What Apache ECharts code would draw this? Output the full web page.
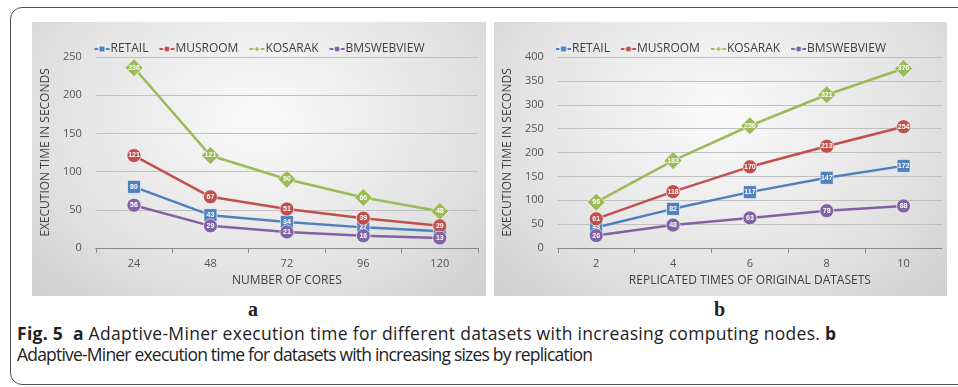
<!DOCTYPE html>
<html>
<head>
<meta charset="utf-8">
<script src="https://cdn.jsdelivr.net/npm/echarts@6/dist/echarts.min.js"></script>
<style>
  html, body { margin: 0; padding: 0; background: #fff; }
  body { width: 958px; height: 387px; position: relative; overflow: hidden; font-family: "Open Sans", sans-serif; }
  .frame { position: absolute; left: 10px; top: 7px; width: 990px; height: 376px; border: 1.5px solid #555; border-radius: 12px; }
  .panel { position: absolute; top: 22px; height: 274px; background: radial-gradient(ellipse at 50% 35%, #fafafa 0%, #e4e4e4 60%, #cfcfcf 100%); }
  #chartA { left: 32px; width: 454px; }
  #chartB { left: 494px; width: 453px; }
  .tag { position: absolute; top: 298px; font-family: "Liberation Serif", "DejaVu Serif", serif; font-weight: bold; font-size: 20px; color: #222; }
  .caption { position: absolute; left: 17px; top: 323px; font-size: 17.5px; line-height: 21px; color: #222; white-space: nowrap; }
  .caption .l1 { letter-spacing: 0.3px; }
  .caption .l2 { letter-spacing: -0.8px; }
</style>
</head>
<body>
<div class="frame"></div>
<div id="chartA" class="panel"></div>
<div id="chartB" class="panel"></div>
<div class="tag" style="left:248px">a</div>
<div class="tag" style="left:714px">b</div>
<div class="caption">
  <span class="l1"><b>Fig. 5</b>&nbsp; <b>a</b> Adaptive-Miner execution time for different datasets with increasing computing nodes. <b>b</b></span><br>
  <span class="l2">Adaptive-Miner execution time for datasets with increasing sizes by replication</span>
</div>
<script>
const seriesNames = ['RETAIL', 'MUSROOM', 'KOSARAK', 'BMSWEBVIEW'];
const seriesColors = ['#4f81bd', '#c0504d', '#9bbb59', '#8064a2'];
const seriesSymbols = ['rect', 'circle', 'diamond', 'circle'];
const seriesSymbolSizes = [13, 14, 18, 14];

// panel a
const coresCategories = ['24', '48', '72', '96', '120'];
const coresRetail = [80, 43, 34, 27, 22];
const coresMusroom = [121, 67, 51, 39, 29];
const coresKosarak = [236, 121, 90, 66, 48];
const coresBms = [56, 29, 21, 16, 13];

// panel b
const replCategories = ['2', '4', '6', '8', '10'];
const replRetail = [43, 82, 117, 147, 172];
const replMusroom = [61, 118, 170, 213, 254];
const replKosarak = [96, 183, 256, 321, 376];
const replBms = [26, 48, 63, 78, 88];

const textColor = '#404040';

function buildOption(categories, dataSets, yMax, yInterval, xName, gridLeft, gridRight) {
  return {
    animation: false,
    legend: {
      top: 16,
      left: 'center',
      itemWidth: 15,
      itemHeight: 8,
      itemGap: 10,
      textStyle: { color: textColor, fontSize: 12, fontFamily: 'Open Sans', padding: [0, 0, 0, -4] },
      data: seriesNames
    },
    grid: { left: gridLeft, right: gridRight, top: 35, bottom: 48 },
    xAxis: {
      type: 'category',
      data: categories,
      boundaryGap: true,
      name: xName,
      nameLocation: 'middle',
      nameGap: 27,
      nameTextStyle: { color: textColor, fontSize: 12, fontFamily: 'Open Sans' },
      axisLine: { lineStyle: { color: '#8a8a8a', width: 1 } },
      axisTick: { show: true, inside: false, length: 5, lineStyle: { color: '#8a8a8a' } },
      axisLabel: { color: '#555', fontSize: 11, margin: 10, fontFamily: 'Open Sans' }
    },
    yAxis: {
      type: 'value',
      min: 0,
      max: yMax,
      interval: yInterval,
      name: 'EXECUTION TIME IN SECONDS',
      nameLocation: 'middle',
      nameGap: 26,
      nameTextStyle: { color: textColor, fontSize: 12, fontFamily: 'Open Sans' },
      axisLine: { show: false },
      axisTick: { show: false },
      axisLabel: { color: '#555', fontSize: 11, margin: 14, fontFamily: 'Open Sans' },
      splitLine: { lineStyle: { color: '#c0c0c0', width: 1 } }
    },
    series: dataSets.map((d, i) => ({
      name: seriesNames[i],
      type: 'line',
      data: d,
      symbol: seriesSymbols[i],
      symbolSize: seriesSymbolSizes[i],
      z: 2 + (i === 2 ? 0 : i),
      lineStyle: { color: seriesColors[i], width: 2.5 },
      itemStyle: { color: seriesColors[i], borderColor: 'rgba(255,255,255,0.6)', borderWidth: 1 },
      label: {
        show: true,
        position: 'inside',
        color: '#fff',
        fontSize: 7,
        fontWeight: 'bold',
        fontFamily: 'Liberation Sans'
      }
    }))
  };
}

const chartA = echarts.init(document.getElementById('chartA'));
chartA.setOption(buildOption(coresCategories, [coresRetail, coresMusroom, coresKosarak, coresBms], 250, 50, 'NUMBER OF CORES', 55, 8));

const chartB = echarts.init(document.getElementById('chartB'));
chartB.setOption(buildOption(replCategories, [replRetail, replMusroom, replKosarak, replBms], 400, 50, 'REPLICATED TIMES OF ORIGINAL DATASETS', 56, 5));
</script>
</body>
</html>
